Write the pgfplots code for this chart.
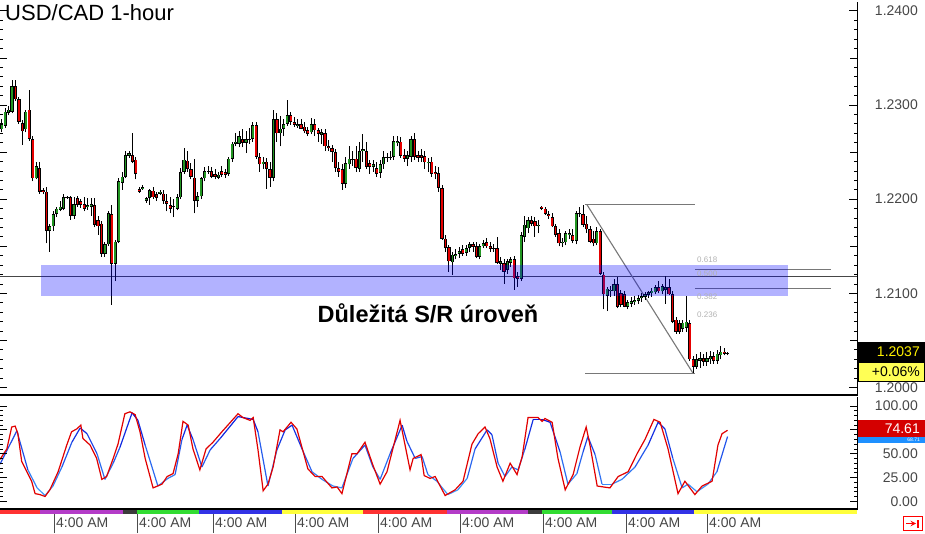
\documentclass[border=0pt]{standalone}
\usepackage{pgfplots}
\pgfplotsset{compat=1.18}
\usepackage{pgfplotstable}
\usepackage{fontspec}
\setmainfont{Liberation Sans}
\definecolor{candleG}{RGB}{34,150,34}
\definecolor{candleR}{RGB}{230,0,0}
\definecolor{lblgray}{RGB}{70,70,70}
\definecolor{fibgray}{RGB}{120,120,120}
\definecolor{srline}{RGB}{70,70,70}
\definecolor{stochred}{RGB}{225,0,0}
\definecolor{stripR}{RGB}{255,50,50}
\definecolor{stripM}{RGB}{180,60,200}
\definecolor{stripK}{RGB}{60,60,60}
\definecolor{stripG}{RGB}{50,220,50}
\definecolor{stripB}{RGB}{50,50,230}
\definecolor{stripY}{RGB}{255,255,60}
\definecolor{boxY}{RGB}{255,255,85}
\definecolor{boxB}{RGB}{30,144,255}
\definecolor{boxR}{RGB}{212,0,0}

% hourly candles: t open high low close
\pgfplotstableread{
t o h l c
0 1.2274 1.2285 1.2271 1.2280
1 1.2278 1.2297 1.2276 1.2293
2 1.2292 1.2299 1.2289 1.2295
3 1.2293 1.2327 1.2291 1.2320
4 1.2320 1.2327 1.2304 1.2306
5 1.2306 1.2308 1.2280 1.2282
6 1.2281 1.2284 1.2258 1.2272
7 1.2274 1.2295 1.2271 1.2293
8 1.2295 1.2316 1.2262 1.2264
9 1.2264 1.2267 1.2219 1.2222
10 1.2222 1.2240 1.2221 1.2235
11 1.2233 1.2240 1.2206 1.2208
12 1.2210 1.2212 1.2205 1.2208
13 1.2208 1.2213 1.2153 1.2166
14 1.2166 1.2174 1.2144 1.2171
15 1.2171 1.2187 1.2166 1.2184
16 1.2184 1.2192 1.2181 1.2190
17 1.2189 1.2198 1.2187 1.2192
18 1.2190 1.2205 1.2188 1.2202
19 1.2202 1.2203 1.2200 1.2201
20 1.2202 1.2203 1.2178 1.2182
21 1.2182 1.2202 1.2179 1.2195
22 1.2201 1.2203 1.2192 1.2194
23 1.2198 1.2200 1.2191 1.2194
24 1.2195 1.2202 1.2187 1.2190
25 1.2192 1.2201 1.2189 1.2194
26 1.2192 1.2201 1.2182 1.2195
27 1.2194 1.2201 1.2170 1.2173
28 1.2178 1.2182 1.2162 1.2171
29 1.2174 1.2177 1.2139 1.2142
30 1.2142 1.2155 1.2139 1.2152
31 1.2152 1.2187 1.2150 1.2185
32 1.2184 1.2194 1.2088 1.2131
33 1.2131 1.2157 1.2113 1.2155
34 1.2155 1.2223 1.2153 1.2219
35 1.2217 1.2229 1.2210 1.2224
36 1.2224 1.2251 1.2222 1.2247
37 1.2246 1.2251 1.2244 1.2249
38 1.2247 1.2270 1.2238 1.2240
39 1.2242 1.2245 1.2221 1.2227
40 1.2211 1.2213 1.2207 1.2208
41 1.2211 1.2215 1.2210 1.2213
42 1.2198 1.2202 1.2196 1.2201
43 1.2201 1.2211 1.2194 1.2210
44 1.2209 1.2213 1.2200 1.2202
45 1.2205 1.2208 1.2198 1.2201
46 1.2206 1.2210 1.2204 1.2208
47 1.2206 1.2210 1.2195 1.2198
48 1.2198 1.2205 1.2187 1.2195
49 1.2194 1.2202 1.2185 1.2190
50 1.2193 1.2200 1.2181 1.2192
51 1.2190 1.2205 1.2188 1.2202
52 1.2202 1.2233 1.2200 1.2229
53 1.2229 1.2254 1.2227 1.2242
54 1.2241 1.2251 1.2229 1.2232
55 1.2232 1.2238 1.2221 1.2224
56 1.2223 1.2243 1.2185 1.2198
57 1.2198 1.2208 1.2192 1.2203
58 1.2203 1.2224 1.2200 1.2222
59 1.2222 1.2234 1.2219 1.2230
60 1.2229 1.2235 1.2227 1.2230
61 1.2230 1.2234 1.2222 1.2224
62 1.2227 1.2232 1.2221 1.2224
63 1.2223 1.2229 1.2221 1.2226
64 1.2230 1.2235 1.2224 1.2226
65 1.2229 1.2232 1.2223 1.2226
66 1.2227 1.2245 1.2225 1.2243
67 1.2243 1.2261 1.2240 1.2259
68 1.2259 1.2270 1.2256 1.2261
69 1.2259 1.2272 1.2255 1.2267
70 1.2264 1.2274 1.2255 1.2260
71 1.2260 1.2272 1.2249 1.2264
72 1.2263 1.2276 1.2259 1.2264
73 1.2264 1.2282 1.2261 1.2279
74 1.2279 1.2282 1.2243 1.2245
75 1.2245 1.2249 1.2229 1.2237
76 1.2237 1.2245 1.2232 1.2240
77 1.2240 1.2244 1.2211 1.2232
78 1.2232 1.2240 1.2213 1.2223
79 1.2223 1.2295 1.2219 1.2285
80 1.2285 1.2291 1.2261 1.2270
81 1.2270 1.2288 1.2256 1.2275
82 1.2275 1.2285 1.2267 1.2280
83 1.2280 1.2305 1.2278 1.2289
84 1.2289 1.2293 1.2279 1.2282
85 1.2282 1.2287 1.2277 1.2279
86 1.2278 1.2285 1.2276 1.2280
87 1.2280 1.2285 1.2274 1.2275
88 1.2277 1.2282 1.2270 1.2272
89 1.2273 1.2277 1.2267 1.2269
90 1.2271 1.2286 1.2269 1.2280
91 1.2280 1.2285 1.2267 1.2273
92 1.2273 1.2276 1.2261 1.2269
93 1.2268 1.2274 1.2259 1.2271
94 1.2270 1.2274 1.2251 1.2256
95 1.2256 1.2263 1.2251 1.2254
96 1.2254 1.2258 1.2240 1.2250
97 1.2250 1.2253 1.2229 1.2233
98 1.2233 1.2240 1.2224 1.2229
99 1.2232 1.2237 1.2210 1.2216
100 1.2216 1.2245 1.2212 1.2238
101 1.2237 1.2256 1.2232 1.2243
102 1.2243 1.2251 1.2235 1.2242
103 1.2243 1.2256 1.2229 1.2233
104 1.2232 1.2261 1.2229 1.2251
105 1.2251 1.2269 1.2240 1.2253
106 1.2251 1.2261 1.2232 1.2234
107 1.2238 1.2242 1.2227 1.2234
108 1.2234 1.2242 1.2229 1.2237
109 1.2233 1.2240 1.2224 1.2227
110 1.2228 1.2242 1.2223 1.2237
111 1.2237 1.2251 1.2232 1.2245
112 1.2244 1.2249 1.2240 1.2245
113 1.2244 1.2251 1.2242 1.2245
114 1.2245 1.2267 1.2242 1.2262
115 1.2260 1.2267 1.2256 1.2262
116 1.2261 1.2266 1.2244 1.2246
117 1.2247 1.2253 1.2240 1.2243
118 1.2243 1.2251 1.2235 1.2247
119 1.2245 1.2267 1.2240 1.2264
120 1.2264 1.2270 1.2242 1.2245
121 1.2247 1.2251 1.2240 1.2244
122 1.2247 1.2253 1.2240 1.2244
123 1.2246 1.2251 1.2232 1.2239
124 1.2238 1.2244 1.2229 1.2240
125 1.2240 1.2245 1.2224 1.2227
126 1.2229 1.2235 1.2221 1.2227
127 1.2228 1.2234 1.2208 1.2212
128 1.2212 1.2215 1.2157 1.2158
129 1.2158 1.2162 1.2144 1.2148
130 1.2149 1.2151 1.2123 1.2134
131 1.2133 1.2144 1.2120 1.2141
132 1.2140 1.2147 1.2136 1.2142
133 1.2142 1.2149 1.2138 1.2145
134 1.2147 1.2151 1.2140 1.2142
135 1.2143 1.2151 1.2140 1.2148
136 1.2148 1.2155 1.2144 1.2152
137 1.2152 1.2155 1.2144 1.2149
138 1.2150 1.2154 1.2137 1.2139
139 1.2139 1.2152 1.2136 1.2150
140 1.2150 1.2157 1.2148 1.2153
141 1.2154 1.2159 1.2148 1.2150
142 1.2150 1.2155 1.2144 1.2147
143 1.2147 1.2152 1.2144 1.2148
144 1.2148 1.2160 1.2131 1.2132
145 1.2131 1.2139 1.2125 1.2134
146 1.2132 1.2136 1.2110 1.2123
147 1.2125 1.2136 1.2121 1.2134
148 1.2132 1.2139 1.2128 1.2136
149 1.2136 1.2140 1.2104 1.2116
150 1.2118 1.2123 1.2107 1.2115
151 1.2115 1.2165 1.2113 1.2162
152 1.2160 1.2182 1.2155 1.2173
153 1.2169 1.2181 1.2164 1.2178
154 1.2178 1.2182 1.2171 1.2174
155 1.2177 1.2181 1.2160 1.2171
156 1.2171 1.2178 1.2164 1.2173
157 1.2192 1.2193 1.2189 1.2190
158 1.2190 1.2192 1.2183 1.2184
159 1.2184 1.2187 1.2179 1.2182
160 1.2181 1.2185 1.2170 1.2171
161 1.2171 1.2174 1.2160 1.2162
162 1.2164 1.2168 1.2150 1.2153
163 1.2153 1.2159 1.2149 1.2155
164 1.2154 1.2166 1.2151 1.2164
165 1.2162 1.2168 1.2158 1.2164
166 1.2162 1.2168 1.2153 1.2156
167 1.2156 1.2187 1.2152 1.2185
168 1.2185 1.2192 1.2181 1.2184
169 1.2184 1.2194 1.2170 1.2173
170 1.2174 1.2182 1.2164 1.2168
171 1.2168 1.2171 1.2153 1.2155
172 1.2158 1.2166 1.2150 1.2153
173 1.2153 1.2170 1.2151 1.2166
174 1.2166 1.2168 1.2120 1.2121
175 1.2120 1.2123 1.2083 1.2099
176 1.2097 1.2107 1.2081 1.2105
177 1.2102 1.2108 1.2096 1.2104
178 1.2102 1.2115 1.2097 1.2110
179 1.2110 1.2117 1.2084 1.2086
180 1.2100 1.2104 1.2085 1.2088
181 1.2099 1.2102 1.2085 1.2086
182 1.2086 1.2093 1.2083 1.2091
183 1.2089 1.2096 1.2086 1.2092
184 1.2091 1.2097 1.2088 1.2093
185 1.2092 1.2098 1.2089 1.2095
186 1.2095 1.2100 1.2091 1.2097
187 1.2096 1.2101 1.2093 1.2099
188 1.2098 1.2102 1.2095 1.2101
189 1.2100 1.2106 1.2096 1.2103
190 1.2101 1.2109 1.2099 1.2107
191 1.2107 1.2113 1.2100 1.2102
192 1.2102 1.2110 1.2099 1.2108
193 1.2104 1.2118 1.2089 1.2107
194 1.2107 1.2115 1.2098 1.2099
195 1.2099 1.2102 1.2068 1.2070
196 1.2072 1.2075 1.2057 1.2059
197 1.2068 1.2072 1.2057 1.2059
198 1.2062 1.2072 1.2059 1.2069
199 1.2063 1.2097 1.2059 1.2070
200 1.2068 1.2072 1.2028 1.2030
201 1.2030 1.2033 1.2015 1.2022
202 1.2022 1.2036 1.2020 1.2030
203 1.2028 1.2038 1.2021 1.2031
204 1.2031 1.2036 1.2023 1.2027
205 1.2027 1.2038 1.2023 1.2031
206 1.2030 1.2039 1.2025 1.2033
207 1.2033 1.2038 1.2025 1.2028
208 1.2028 1.2040 1.2025 1.2036
209 1.2034 1.2044 1.2030 1.2038
210 1.2038 1.2042 1.2034 1.2036
211 1.2036 1.2038 1.2034 1.2037
}\candles

\pgfplotsset{
  panel/.style={scale only axis, width=857pt, anchor=south west,
    xmin=-0.5, xmax=248.63, xtick=\empty, axis x line=none},
  candlebar/.style n args={2}{draw=none, mark=none, forget plot,
    error bars/.cd, y dir=plus, y explicit, error mark=none,
    error bar style={draw=#1, line width=#2}},
}

\begin{document}
\begin{tikzpicture}[x=1pt,y=1pt]
\useasboundingbox (0,0) rectangle (925,533);

% ---------- price panel ----------
% (placed 7pt higher: the axis box lands 7pt low with these limits)
\begin{axis}[panel, at={(0,146)}, height=394pt,
  ymin=1.19915, ymax=1.24099,
  axis y line*=right, y axis line style={black, line width=1pt},
  tick align=inside, ytick={1.20,1.21,1.22,1.23,1.24},
  minor y tick num=9, major tick length=8pt, minor tick length=3pt,
  tick style={black, line width=0.8pt},
  extra y ticks={1.205,1.215,1.225,1.235}, extra y tick labels={},
  extra y tick style={major tick length=7pt},
  yticklabel style={font=\fontsize{14}{14}\selectfont, text=lblgray,
    anchor=east, inner sep=0pt, xshift=61pt,
    /pgf/number format/.cd, fixed, fixed zerofill, precision=4},
  /pgf/number format/assume math mode=true]

  % S/R level line
  \addplot[draw=srline, line width=1.5pt, forget plot]
    coordinates {(-0.5,1.21179) (248.63,1.21179)};
  % fibonacci drawing
  \addplot[fibgray, line width=1.1pt, forget plot] coordinates {(169.6,1.21943) (201.5,1.21943)};
  \addplot[fibgray, line width=1.1pt, forget plot] coordinates {(169.6,1.20149) (201.5,1.20149)};
  \addplot[fibgray, line width=1.1pt, forget plot] coordinates {(170.1,1.21943) (201.0,1.20149)};
  \addplot[fibgray, line width=0.8pt, forget plot] coordinates {(201.5,1.21253) (241.1,1.21253)};
  \addplot[fibgray, line width=0.8pt, forget plot] coordinates {(201.5,1.21051) (241.1,1.21051)};

  % candles: wicks, black bodies, then green / red fills
  \addplot[candlebar={black}{0.9pt}]
    table[x=t, y=l, y error plus expr={\thisrow{h}-\thisrow{l}}] {\candles};
  \addplot[candlebar={black}{3.2pt}]
    table[x=t, y expr={min(\thisrow{o},\thisrow{c})},
      y error plus expr={max(abs(\thisrow{c}-\thisrow{o}),0.0001)}] {\candles};
  \addplot[restrict expr to domain={\thisrow{c}-\thisrow{o}}{0:1},
    candlebar={candleG}{1.7pt}]
    table[x=t, y expr={min(\thisrow{o},\thisrow{c})+0.00008},
      y error plus expr={max(abs(\thisrow{c}-\thisrow{o})-0.00016,0)}] {\candles};
  \addplot[restrict expr to domain={\thisrow{c}-\thisrow{o}}{-1:-0.00001},
    candlebar={candleR}{1.7pt}]
    table[x=t, y expr={min(\thisrow{o},\thisrow{c})+0.00008},
      y error plus expr={max(abs(\thisrow{c}-\thisrow{o})-0.00016,0)}] {\candles};

  % support / resistance zone
  \addplot[fill=blue, fill opacity=0.3, draw=none, forget plot]
    coordinates {(11.4,1.20977) (228.6,1.20977) (228.6,1.21306) (11.4,1.21306)};
\end{axis}

% left tick marks of the price panel
\begin{axis}[panel, at={(0,146)}, height=394pt,
  ymin=1.19915, ymax=1.24099,
  axis y line*=left, y axis line style={draw=none},
  tick align=inside, ytick={1.195,1.200,...,1.240}, yticklabels={},
  minor y tick num=4, major tick length=7pt, minor tick length=3pt,
  tick style={black, line width=0.8pt}]
\end{axis}

% ---------- stochastic panel ----------
% (the 75.00 label sits under the %K value box, so it is left blank)
\begin{axis}[panel, at={(0,24)}, height=113pt,
  ymin=-9.4, ymax=109.4,
  point meta min=0, point meta max=100,
  colormap={stoch}{rgb255=(70,170,255) rgb255=(0,0,215)},
  axis y line*=right, y axis line style={black, line width=1pt},
  tick align=inside, ytick={0,25,50,75,100},
  yticklabels={0.00,25.00,50.00,,100.00},
  minor y tick num=4, major tick length=7pt, minor tick length=3pt,
  tick style={black, line width=0.8pt},
  yticklabel style={font=\fontsize{14}{14}\selectfont, text=lblgray,
    anchor=east, inner sep=0pt, xshift=61pt}]

  % %D line
  \addplot[mesh, point meta=y, line width=1.2pt] coordinates {
    (-0.5,39) (4.4,74) (7.6,33) (10.3,14) (12.6,6) (14.9,16) (17.5,36) (20.4,62)
    (22.8,77) (24.8,71) (27.7,50) (30.0,23) (32.4,40) (34.4,57) (37.9,93) (39.6,85)
    (41.7,59) (45.4,16) (48.3,24) (50.4,28) (52.4,65) (53.9,80) (55.6,65) (58.2,36)
    (60.6,54) (63.5,66) (68.7,89) (73.1,86) (74.5,73) (77.4,16) (80.0,54) (82.4,75)
    (84.4,80) (87.3,55) (90.2,31) (93.1,23) (96.3,16) (98.9,14) (102.1,45) (105.6,59)
    (107.9,36) (110.0,23) (112.9,50) (116.4,80) (117.8,63) (120.2,45) (122.2,47)
    (123.9,28) (126.5,21) (129.7,7) (132.6,12) (135.3,24) (137.6,55) (141.1,75)
    (142.5,70) (144.3,40) (146.3,26) (148.3,36) (150.1,33) (152.1,55) (154.5,86)
    (157.1,86) (159.4,83) (162.3,52) (164.6,18) (167.2,29) (169.0,52) (170.4,68)
    (172.5,49) (174.5,18) (177.4,18) (180.3,23) (184.1,36) (187.9,59) (190.8,83)
    (192.8,76) (195.1,45) (197.8,14) (199.5,18) (202.1,10) (205.3,18) (207.9,31)
    (211,68)};
  % %K line
  \addplot[stochred, line width=1.2pt] coordinates {
    (-0.5,44) (1.5,55) (2.9,78) (3.9,79) (4.7,71) (5.8,42) (7.3,31) (8.7,21) (9.7,8)
    (11.1,7) (12.6,5) (14.0,12) (16.4,31) (18.9,59) (20.3,73) (21.8,76) (23.0,80)
    (23.6,66) (25.7,59) (27.6,45) (29.1,23) (30.5,26) (32.4,45) (33.8,60) (35.8,92)
    (37.3,94) (38.8,91) (40.2,73) (41.7,45) (44.0,14) (46.6,18) (48.1,26) (49.8,29)
    (51.3,50) (52.7,84) (54.2,80) (55.6,55) (57.6,33) (59.4,55) (61.4,62) (64.0,73)
    (68.7,92) (70.1,88) (72.2,85) (73.1,88) (74.5,54) (76.0,11) (77.4,18) (78.9,36)
    (80.9,75) (81.8,73) (84.1,83) (85.8,76) (89.0,34) (91.1,26) (93.1,26) (96.0,14)
    (97.5,15) (98.9,8) (101.8,50) (103.3,50) (105.6,62) (107.9,38) (110.0,18)
    (112.0,31) (115.8,85) (118.7,33) (119.6,45) (121.9,49) (122.8,27) (124.5,24)
    (126.0,26) (128.9,6) (131.8,12) (134.1,21) (136.7,60) (138.5,71) (140.5,78)
    (141.9,66) (144.0,36) (145.7,21) (147.8,40) (149.8,28) (151.3,47) (153.0,88)
    (155.9,88) (157.1,84) (157.9,87) (160.0,83) (161.7,45) (163.8,12) (166.1,28)
    (168.1,57) (169.9,78) (171.0,59) (173.1,16) (176.8,14) (179.2,26) (182.1,31)
    (184.7,50) (187.0,65) (189.6,86) (191.4,83) (193.7,55) (196.6,8) (198.6,21)
    (201.5,7) (203.6,16) (206.5,21) (208.2,59) (209.4,71) (211,74.61)};
\end{axis}

\begin{axis}[panel, at={(0,24)}, height=113pt,
  ymin=-9.4, ymax=109.4,
  axis y line*=left, y axis line style={draw=none},
  tick align=inside, ytick={0,25,50,75,100}, yticklabels={},
  minor y tick num=4, major tick length=7pt, minor tick length=3pt,
  tick style={black, line width=0.8pt}]
\end{axis}

% panel frame lines
\draw[black, line width=2pt] (0,138) -- (857,138);
\draw[black, line width=1.5pt] (0,24) -- (857,24);

% session colour strip
\foreach \a/\b/\col in {0/40/stripR, 40/123/stripM, 123/137/stripK, 137/199/stripG,
  199/282/stripB, 282/363/stripY, 363/447/stripR, 447/528/stripM, 528/542/stripK,
  542/612/stripG, 612/694/stripB, 694/857/stripY}
  \fill[\col] (\a,19.5) rectangle (\b,22.8);

% time labels
\foreach \xx in {54,137,213,295,378,460,543,626,707} {
  \draw[black!70, line width=1pt] (\xx,0) -- (\xx,19.5);
  \node[anchor=west, inner sep=0pt, text=lblgray, font=\fontsize{14}{14}\selectfont]
    at (\xx+2,10) {4:00 AM};
}

% titles and notes
\node[anchor=base west, inner sep=0pt, font=\fontsize{22}{22}\selectfont] at (5,512.3) {USD/CAD 1-hour};
\node[anchor=base, inner sep=0pt, font=\bfseries\fontsize{23.5}{23.5}\selectfont] at (428,211) {Důležitá S/R úroveň};

% fibonacci level labels
\foreach \yy/\txt in {273/0.618, 259/0.500, 236/0.382, 218/0.236}
  \node[anchor=west, inner sep=0pt, text=black!30, font=\fontsize{8}{8}\selectfont] at (697,\yy) {\txt};

% last price boxes
\fill[black] (858,171) rectangle (925,191);
\node[anchor=east, inner sep=0pt, text=yellow, font=\fontsize{14}{14}\selectfont] at (920,181) {1.2037};
\draw[black, fill=boxY, line width=0.8pt] (858,152) rectangle (924.6,171);
\node[anchor=east, inner sep=0pt, font=\fontsize{14}{14}\selectfont] at (920,161.5) {+0.06\%};

% stochastic value boxes (the %D box shows only as a strip under the %K box)
\fill[boxB] (858,90) rectangle (925,96);
\node[anchor=east, inner sep=0pt, text=white, font=\fontsize{5}{5}\selectfont] at (920,93) {68.71};
\fill[boxR] (858,96) rectangle (925,113);
\node[anchor=east, inner sep=0pt, text=white, font=\fontsize{14}{14}\selectfont] at (920,104.5) {74.61};

% scroll-to-end icon
\draw[red, line width=1pt] (903,2.5) rectangle (922,16.5);
\draw[red, line width=1.4pt, -stealth] (906,9.5) -- (916,9.5);
\draw[red, line width=1.4pt] (918,5.5) -- (918,13.5);
\end{tikzpicture}
\end{document}
